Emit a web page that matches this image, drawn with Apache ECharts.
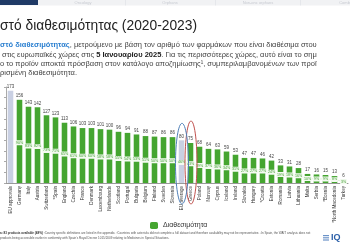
<!DOCTYPE html>
<html>
<head>
<meta charset="utf-8">
<script src="https://cdn.jsdelivr.net/npm/echarts@6/dist/echarts.min.js"></script>
<style>
  html, body { margin: 0; padding: 0; background: #fff; }
  #chart { width: 350px; height: 250px; }
</style>
</head>
<body>
<div id="chart"></div>
<script>
// categories and values
const countries = ['EU approvals', 'Germany', 'Italy', 'Austria', 'Switzerland', '*Spain', 'England', 'Czechia',
  'France', 'Denmark', 'Luxembourg', 'Netherlands', 'Scotland', 'Portugal', 'Bulgaria', 'Belgium', 'Finland',
  'Sweden', 'Slovenia', 'EU average', 'Greece', 'Poland', 'Norway', 'Cyprus', 'Iceland', 'Ireland', 'Slovakia',
  'Hungary', '*Croatia', 'Estonia', 'Romania', 'Latvia', 'Lithuania', 'Malta', 'Serbia', '*Bosnia',
  '*North Macedonia', 'Turkey'];
const available = [173, 156, 143, 142, 127, 123, 113, 106, 103, 103, 101, 100, 96, 94, 91, 88, 87, 86, 86, 80,
  75, 68, 64, 63, 59, 53, 47, 47, 46, 42, 33, 31, 28, 17, 16, 15, 13, 6];
const availPct = [null, 90, 83, 82, 73, 71, 65, 61, 60, 60, 58, 58, 55, 54, 53, 51, 50, 50, 50, 46,
  43, 39, 37, 36, 34, 31, 27, 27, 27, 24, 19, 18, 16, 10, 9, 9, 8, 3];
const greyBars = ['EU approvals', 'EU average'];

const FONT = 'Liberation Sans, Arial, sans-serif';
const GREEN = '#45a530';

const chart = echarts.init(document.getElementById('chart'), null, { renderer: 'canvas' });

const option = {
  backgroundColor: '#fff',
  animation: false,
  textStyle: { fontFamily: FONT },
  legend: {
    left: 145, top: 217,
    itemWidth: 8, itemHeight: 7, itemGap: 4,
    textStyle: { fontSize: 7, color: '#333', fontFamily: FONT },
    data: ['Διαθεσιμότητα']
  },
  grid: { left: 6, right: 2, top: 87, bottom: 67, containLabel: false },
  xAxis: {
    type: 'category',
    data: countries,
    axisLine: { lineStyle: { color: '#999', width: 1 } },
    axisTick: { show: false },
    axisLabel: { rotate: 90, interval: 0, fontSize: 4.6, color: '#333', margin: 3, fontFamily: FONT }
  },
  yAxis: [{
    type: 'value', min: 0, max: 180, interval: 20,
    axisLine: { show: true, lineStyle: { color: '#aaa' } },
    axisTick: { show: true, length: 2, lineStyle: { color: '#aaa' } },
    axisLabel: { show: false },
    splitLine: { show: false }
  }, {
    type: 'value', min: 0, max: 215, show: false
  }],
  series: [{
    name: 'Διαθεσιμότητα',
    type: 'bar',
    barWidth: '62%',
    itemStyle: { color: GREEN },
    label: { show: true, position: 'top', distance: 1.5, fontSize: 4.5, color: '#444', fontFamily: FONT },
    data: available.map((v, i) => greyBars.includes(countries[i])
      ? { value: v, itemStyle: { color: '#c9d0e3' } }
      : v)
  }, {
    name: 'pct',
    type: 'line',
    yAxisIndex: 1,
    symbol: 'circle',
    symbolSize: 1,
    itemStyle: { color: 'rgba(0,0,0,0)' },
    lineStyle: { color: '#e3f2dc', width: 1 },
    z: 5,
    label: {
      show: true, position: 'inside', fontSize: 3.6, color: '#3a9a2a', fontFamily: FONT,
      backgroundColor: '#f4fbf1', padding: [0.5, 1], borderRadius: 1.5,
      formatter: p => p.value == null ? '' : p.value + '%'
    },
    data: availPct
  }]
};
chart.setOption(option);

// slide furniture: header strip, title, paragraph, footnote, logo, highlight rings
function decorate() {
  const avgIdx = countries.indexOf('EU average');
  const grIdx = countries.indexOf('Greece');
  const avgTop = chart.convertToPixel({ seriesIndex: 0 }, [avgIdx, available[avgIdx]]);
  const grTop = chart.convertToPixel({ seriesIndex: 0 }, [grIdx, available[grIdx]]);
  const ringBottom = 204;
  const ring = (pt, above, rx, color) => ({
    type: 'ellipse', z: 20, silent: true,
    shape: { cx: pt[0] + 0.5, cy: (pt[1] - above + ringBottom) / 2, rx: rx, ry: (ringBottom - pt[1] + above) / 2 },
    style: { fill: null, stroke: color, lineWidth: 1 }
  });

  const tabs = [['Oncology', 83], ['Orphans', 170], ['Non-onc orphans', 258], ['Combi', 345]];
  const elements = [
    { type: 'rect', shape: { x: 0, y: 0, width: 350, height: 5.5 }, style: { fill: '#f1f2f4' } },
    { type: 'rect', shape: { x: 0, y: 0, width: 38, height: 5 }, style: { fill: '#1f3a66' } },
    ...tabs.map(t => ({ type: 'text', x: t[1], y: 0.5, style: { text: t[0], fontSize: 4, fill: '#c8cbd2', textAlign: 'center', fontFamily: FONT } })),
    ...[125, 215, 300].map(x => ({ type: 'rect', shape: { x: x, y: 0, width: 0.6, height: 5.5 }, style: { fill: '#dde0e5' } })),
    {
      type: 'text', x: 0, y: 19,
      style: { text: 'στό διαθεσιμότητας (2020-2023)', fontSize: 13.8, fill: '#222', fontFamily: FONT }
    },
    {
      type: 'text', x: 0, y: 40.5,
      style: {
        text: '{b|στό διαθεσιμότητας}, μετρούμενο με βάση τον αριθμό των φαρμάκων που είναι διαθέσιμα στου\n' +
          ' στις ευρωπαϊκές χώρες στις {k|5 Ιανουαρίου 2025}. Για τις περισσότερες χώρες, αυτό είναι το σημ\n' +
          'ο το προϊόν αποκτά πρόσβαση στον κατάλογο αποζημίωσης¹, συμπεριλαμβανομένων των προϊ\n' +
          'ρισμένη διαθεσιμότητα.',
        fontSize: 7.5, lineHeight: 9.3, fill: '#444', fontFamily: FONT,
        rich: {
          b: { fontSize: 7.5, fill: '#2a7fd0', fontWeight: 'bold', fontFamily: FONT },
          k: { fontSize: 7.5, fill: '#222', fontWeight: 'bold', fontFamily: FONT }
        }
      }
    },
    {
      type: 'text', x: 0, y: 231,
      style: {
        text: '{b|a: 83 products available (48%)} ¹Country specific definitions are listed in the appendix. ²Countries with asterisks did not complete a full dataset and therefore availability may not be representative. ³In Spain, the WAIT analysis does not\n' +
          'products being accessible earlier in conformity with Spain\'s Royal Decree 1015/2009 relating to Medicines in Special Situations.',
        fontSize: 3, lineHeight: 4.5, fill: '#555', fontFamily: FONT,
        rich: { b: { fontSize: 3, fontWeight: 'bold', fill: '#333', fontFamily: FONT } }
      }
    },
    {
      type: 'text', x: 331, y: 233,
      style: { text: 'IQ', fontSize: 9, fontWeight: 'bold', fill: '#2b5fa8', fontFamily: FONT }
    },
    ...[0, 1, 2].map(k => ({ type: 'rect', shape: { x: 323, y: 235 + k * 2.2, width: 6, height: 1.2 }, style: { fill: '#6c93c8' } })),
    ring(grTop, 22, 6, '#c0504d'),
    ring(avgTop, 17, 6.5, '#4f7fb8')
  ];
  chart.setOption({ graphic: { elements: elements } });
}
decorate();
</script>
</body>
</html>
